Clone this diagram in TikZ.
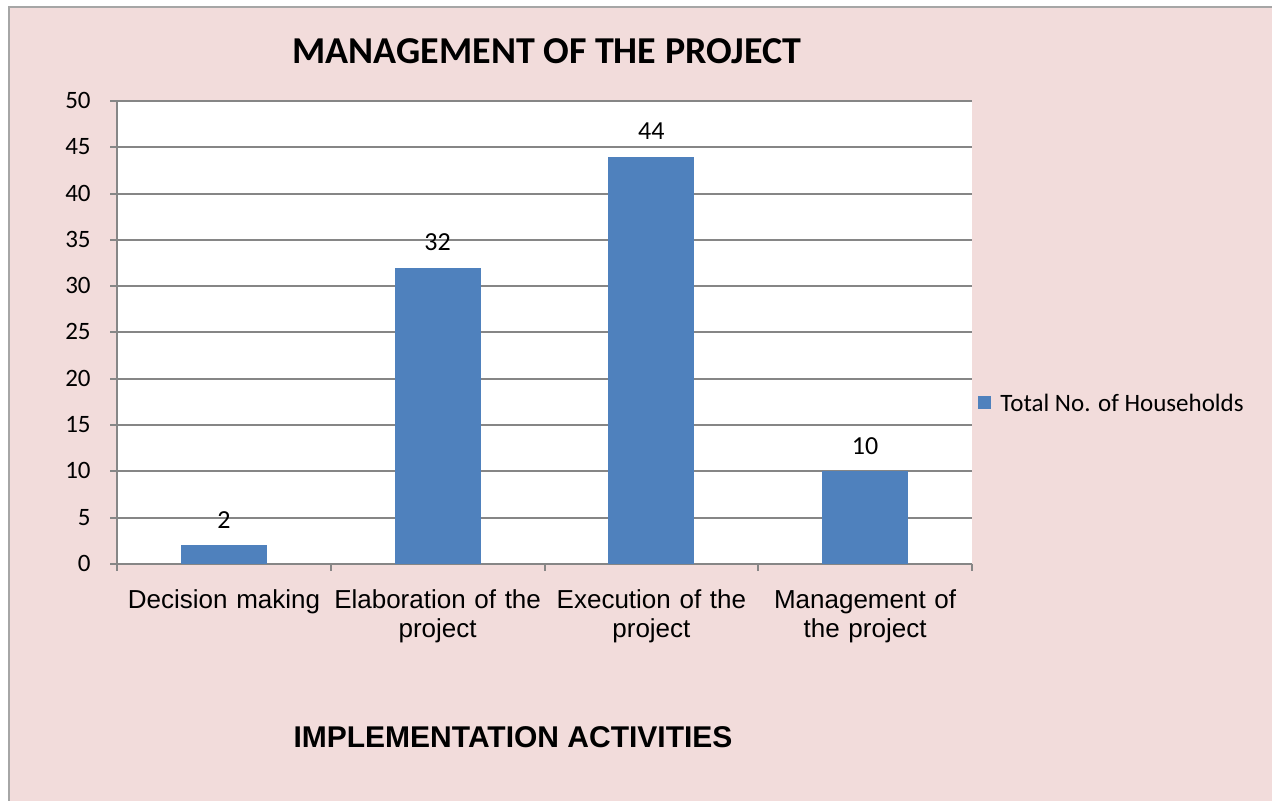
\documentclass[tikz,border=0pt]{standalone}
\usepackage{fontspec}
\setmainfont{Carlito}
\newfontfamily\arialfont{Liberation Sans}
\definecolor{chartbg}{HTML}{F2DCDB}
\definecolor{barblue}{HTML}{4F81BD}
\definecolor{gridgray}{HTML}{868686}
\definecolor{framegray}{HTML}{A6A6A6}

\tikzset{
  bar/.style={fill=barblue, draw=none},
  grid line/.style={gridgray, line width=1pt},
  tick label/.style={anchor=base east, inner sep=0pt, font=\fontsize{12.5}{14}\selectfont},
  value label/.style={anchor=base, inner sep=0pt, font=\fontsize{13}{15}\selectfont},
  cat label/.style={anchor=base, inner sep=0pt, align=center, text width=110pt,
    font=\arialfont\fontsize{13}{14.5}\selectfont}
}

\begin{document}
\begin{tikzpicture}[x=0.5pt,y=-0.5pt]
\useasboundingbox (0,0) rectangle (1272,801);

% Chart area and plot area
\filldraw[fill=chartbg, draw=framegray, line width=0.75pt] (9,7) rectangle (1300,830);
\fill[white] (117,101) rectangle (972,564);

% Gridlines and value axis labels
\foreach \v in {0,5,...,50} {
  \draw[grid line] (110,{564-9.26*\v}) -- (972,{564-9.26*\v});
  \node[tick label] (t\v) at (91,{564-9.26*\v+7.5}) {\v};
}

% Bars
\foreach \c/\v in {224/2, 437.6/32, 651.4/44, 865.1/10} {
  \fill[bar] ({\c-43},{564-9.26*\v}) rectangle ({\c+43},564);
}

% Axes
\draw[grid line] (117,101) -- (117,571);
\foreach \x in {117, 330.75, 544.5, 758.25, 972} {
  \draw[grid line] (\x,564) -- (\x,571);
}

% Value labels
\node[value label] (v1) at (224,{564-9.26*2-17}) {2};
\node[value label] (v2) at (437.6,{564-9.26*32-17}) {32};
\node[value label] (v3) at (651.4,{564-9.26*44-17}) {44};
\node[value label] (v4) at (865.1,{564-9.26*10-17}) {10};

% Category labels
\node[cat label] (c1) at (224,608) {Decision making};
\node[cat label] (c2) at (437.6,608) {Elaboration of the\\project};
\node[cat label] (c3) at (651.4,608) {Execution of the\\project};
\node[cat label] (c4) at (865.1,608) {Management of\\the project};

% Titles
\node[anchor=base, inner sep=0pt, font=\bfseries\fontsize{19}{22}\selectfont] (title) at (547,64) {MANAGEMENT OF THE PROJECT};
\node[anchor=base, inner sep=0pt, font=\arialfont\bfseries\fontsize{15}{18}\selectfont] (xtitle) at (513,747) {IMPLEMENTATION ACTIVITIES};

% Legend
\node[fill=barblue, inner sep=0pt, minimum size=6.5pt] (legkey) at (984,403) {};
\node[anchor=base west, inner sep=0pt, font=\fontsize{12.5}{14}\selectfont] (legtext) at (1000,412) {Total No. of Households};

\end{tikzpicture}
\end{document}
